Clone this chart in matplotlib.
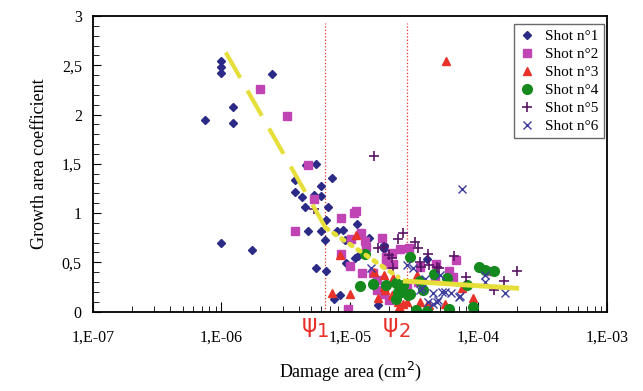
import matplotlib
matplotlib.use("Agg")
import matplotlib.pyplot as plt
import matplotlib.transforms as mtransforms
import numpy as np

# Shot n°1 (diamonds)
shot1_x = [1.0e-6, 1.0e-6, 1.0e-6, 2.47e-6, 1.23e-6, 1.23e-6, 7.4e-7, 1.0e-6, 1.73e-6,
           4.52e-6, 5.43e-6, 7.21e-6, 3.73e-6, 6.0e-6, 3.73e-6, 4.25e-6, 5.98e-6, 5.24e-6,
           4.46e-6, 6.71e-6, 6.46e-6, 1.14e-5, 4.71e-6, 5.95e-6, 7.93e-6, 8.87e-6, 6.43e-6,
           1.41e-5, 1.84e-5, 1.84e-5, 1.09e-5, 1.15e-5, 3.95e-5, 5.43e-6, 6.46e-6, 8.4e-6,
           7.46e-6, 1.65e-5, 9.7e-6, 9.14e-6, 9.24e-6]
shot1_y = [2.54, 2.48, 2.42, 2.41, 2.08, 1.91, 1.94, 0.70, 0.62,
           1.49, 1.50, 1.36, 1.34, 1.27, 1.21, 1.16, 1.17, 1.18,
           1.06, 1.06, 0.93, 0.885, 0.82, 0.82, 0.82, 0.83, 0.73,
           0.75, 0.675, 0.63, 0.54, 0.56, 0.53, 0.44, 0.41, 0.165,
           0.124, 0.063, 0.005, 0.725, 0.49]

# Shot n°2 (squares)
shot2_x = [1.99e-6, 3.23e-6, 4.69e-6, 5.22e-6, 3.73e-6, 1.12e-5, 1.07e-5, 8.46e-6, 1.22e-5,
           1.01e-5, 1.30e-5, 1.33e-5, 1.78e-5, 8.55e-6, 9.95e-6, 1.23e-5, 1.52e-5, 1.62e-5,
           1.63e-5, 1.84e-5, 2.0e-5, 9.7e-6, 2.46e-5, 2.88e-5, 1.92e-5, 2.13e-5, 3.5e-5,
           4.64e-5, 5.93e-5, 6.71e-5, 6.37e-5, 4.62e-5, 2.18e-5, 1.89e-5, 3.40e-5, 2.76e-5,
           1.18e-4]
shot2_y = [2.26, 1.99, 1.49, 1.145, 0.82, 1.02, 1.00, 0.95, 0.80,
           0.74, 0.72, 0.655, 0.745, 0.58, 0.46, 0.39, 0.39, 0.32,
           0.22, 0.18, 0.12, 0.03, 0.63, 0.64, 0.55, 0.59, 0.455,
           0.48, 0.41, 0.52, 0.35, 0.35, 0.485, 0.48, 0.30, 0.25,
           0.41]

# Shot n°3 (triangles)
shot3_x = [5.62e-5, 1.12e-5, 8.4e-6, 7.21e-6, 9.95e-6, 1.65e-5, 1.87e-5, 1.55e-5, 1.84e-5,
           2.16e-5, 2.38e-5, 2.57e-5, 2.38e-5, 2.76e-5, 3.32e-5, 3.49e-5, 4.13e-5, 5.49e-5,
           9.0e-5, 2.89e-5, 1.84e-5, 2.46e-5, 7.4e-5, 2.11e-5, 3.95e-5]
shot3_y = [2.54, 0.78, 0.57, 0.185, 0.18, 0.14, 0.22, 0.405, 0.37,
           0.34, 0.10, 0.076, 0.03, 0.10, 0.37, 0.10, 0.07, 0.076,
           0.134, 0.185, 0.25, 0.04, 0.235, 0.17, 0.066]

# Shot n°4 (circles)
shot4_x = [1.31e-5, 1.20e-5, 1.50e-5, 1.90e-5, 2.28e-5, 2.93e-5, 2.38e-5, 2.28e-5, 2.93e-5,
           3.24e-5, 3.95e-5, 5.93e-5, 9.1e-5, 4.5e-5, 5.66e-5, 1.01e-4, 1.12e-4, 1.32e-4,
           8.1e-5, 3.5e-5, 3.72e-5, 2.6e-5, 2.84e-5, 2.52e-5]
shot4_y = [0.58, 0.26, 0.28, 0.27, 0.29, 0.55, 0.20, 0.13, 0.18,
           0.015, 0.01, 0.03, 0.05, 0.38, 0.34, 0.45, 0.42, 0.41,
           0.27, 0.31, 0.22, 0.27, 0.17, 0.20]

# Shot n°5 (plus)
shot5_x = [1.53e-5, 5.22e-6, 2.59e-5, 2.38e-5, 3.22e-5, 3.36e-5, 1.65e-5, 2.03e-5, 4.13e-5,
           6.45e-5, 7.99e-5, 4.73e-5, 2.18e-5, 3.5e-5, 1.83e-5, 2.11e-5, 4.07e-5, 4.93e-5,
           3.56e-5, 2.01e-4, 1.59e-4, 1.32e-4]
shot5_y = [1.58, 1.04, 0.80, 0.74, 0.71, 0.64, 0.64, 0.57, 0.47,
           0.56, 0.35, 0.455, 0.44, 0.505, 0.66, 0.545, 0.58, 0.44,
           0.455, 0.41, 0.31, 0.22]

# Shot n°6 (crosses)
shot6_x = [7.48e-5, 1.47e-5, 3.84e-5, 4.45e-5, 5.49e-5, 4.07e-5, 4.86e-5, 7.1e-5, 6.07e-5,
           3.5e-5, 2.76e-5, 3.11e-5, 3.62e-5, 5.0e-5, 5.21e-5, 7.18e-5, 4.46e-5, 4.73e-5,
           1.12e-4, 1.12e-4, 1.61e-4]
shot6_y = [1.24, 0.44, 0.33, 0.19, 0.20, 0.10, 0.12, 0.145, 0.19,
           0.22, 0.47, 0.445, 0.24, 0.37, 0.195, 0.16, 0.073, 0.093,
           0.37, 0.30, 0.185]

# trend lines (yellow)
trend_dash_x = [1.08e-6, 6.46e-6]
trend_dash_y = [2.63, 0.85]
trend_dot_x = [6.46e-6, 2.37e-5]
trend_dot_y = [0.85, 0.35]
trend_solid_x = [2.58e-5, 2.07e-4]
trend_solid_y = [0.31, 0.235]

# thresholds psi1, psi2
psi_x = [6.43e-6, 2.76e-5]
psi_labels = ["1", "2"]

plt.rcParams["font.family"] = ["Liberation Serif", "DejaVu Serif"]

fig = plt.figure(figsize=(6.43, 3.91), dpi=100)
ax = fig.add_axes([0.1446, 0.2033, 0.7994, 0.7557])

ax.plot(shot1_x, shot1_y, "D", color="#2b2a86", ms=4.5, mec="#2b2a86", label="Shot n°1")
ax.plot(shot2_x, shot2_y, "s", color="#c044b4", ms=5.5, mec="#c044b4", label="Shot n°2")
ax.plot(shot3_x, shot3_y, "^", color="#e8322a", ms=6, mec="#e8322a", label="Shot n°3")
ax.plot(shot4_x, shot4_y, "o", color="#148a1e", ms=7, mec="#148a1e", label="Shot n°4")
ax.plot(shot5_x, shot5_y, "+", color="#5a1466", ms=6.5, mew=1.2, label="Shot n°5")
ax.plot(shot6_x, shot6_y, "x", color="#3c3c9c", ms=5.5, mew=1.0, label="Shot n°6")

yellow = "#e6df3a"
ax.plot(trend_dash_x, trend_dash_y, color=yellow, lw=3, dashes=(7, 3.5),
        solid_capstyle="butt", dash_capstyle="butt", zorder=5)
ax.plot(trend_dot_x, trend_dot_y, color=yellow, lw=3.5, dashes=(0.6, 1.4),
        dash_capstyle="round", zorder=5)
ax.plot(trend_solid_x, trend_solid_y, color=yellow, lw=3.5, solid_capstyle="butt", zorder=5)

ax.vlines(psi_x, 0, 2.93, colors="#e8302a", linestyles=":", lw=0.9, zorder=1)

trans = mtransforms.blended_transform_factory(ax.transData, ax.transAxes)
for xv, lab in zip(psi_x, psi_labels):
    ax.text(xv * 0.86, -0.006, "ψ", transform=trans, ha="right", va="top",
            fontsize=17, color="#e8302a", family="DejaVu Sans", clip_on=False)
    ax.text(xv * 0.86, -0.034, lab, transform=trans, ha="left", va="top",
            fontsize=14, color="#e8302a", family="DejaVu Sans", clip_on=False)

ax.set_xscale("log")
ax.set_xlim(1e-7, 1e-3)
ax.set_ylim(0, 3)
ax.set_xticks([1e-7, 1e-6, 1e-5, 1e-4, 1e-3])
ax.set_xticklabels(["1,E-07", "1,E-06", "1,E-05", "1,E-04", "1,E-03"])
ax.set_yticks([0, 0.5, 1, 1.5, 2, 2.5, 3])
ax.set_yticklabels(["0", "0,5", "1", "1,5", "2", "2,5", "3"])
ax.set_yticks(np.arange(0, 3.01, 0.1), minor=True)
ax.tick_params(axis="both", which="both", direction="in", labelsize=11.5,
               top=False, right=False)
ax.tick_params(axis="x", which="major", length=7, pad=13)
ax.tick_params(axis="x", which="minor", length=4)
ax.tick_params(axis="y", which="major", length=6, pad=8)
ax.tick_params(axis="y", which="minor", length=4)
for sp in ax.spines.values():
    sp.set_linewidth(1.3)

ax.set_xlabel("Damage area (cm$^2$)", fontsize=13, labelpad=10)
ax.set_ylabel("Growth area coefficient", fontsize=13, labelpad=10)

leg = ax.legend(loc="upper right", bbox_to_anchor=(0.994, 0.973), borderaxespad=0,
                fontsize=11, frameon=True, fancybox=False, edgecolor="#444444",
                handlelength=1.0, handletextpad=0.7, borderpad=0.35, labelspacing=0.28,
                numpoints=1)
leg.get_frame().set_linewidth(1.0)

fig.savefig("out.png", dpi=100)
